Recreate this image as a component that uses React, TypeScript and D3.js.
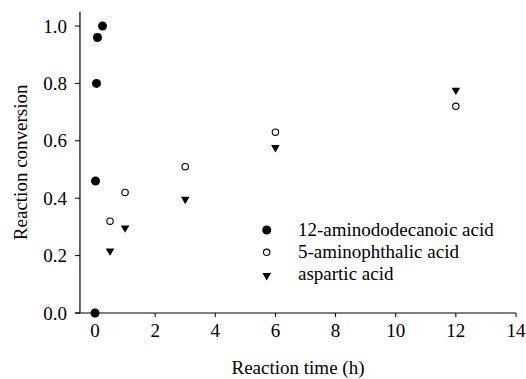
import React from "react";
import * as d3 from "d3";

const seriesNames = ["12-aminododecanoic acid", "5-aminophthalic acid", "aspartic acid"];
const aminoDodecTime = [0, 0.017, 0.05, 0.083, 0.25];
const aminoDodecConv = [0.0, 0.46, 0.8, 0.96, 1.0];
const aminoPhthTime = [0.5, 1, 3, 6, 12];
const aminoPhthConv = [0.32, 0.42, 0.51, 0.63, 0.72];
const asparticTime = [0.5, 1, 3, 6, 12];
const asparticConv = [0.22, 0.3, 0.4, 0.58, 0.78];
const xTicks = [0, 2, 4, 6, 8, 10, 12, 14];
const yTicks = [0.0, 0.2, 0.4, 0.6, 0.8, 1.0];

const W = 526;
const H = 379;
const FAM = "Liberation Serif";

export default function App() {
  const x = d3.scaleLinear().domain([0, 14]).range([95, 516]);
  const y = d3.scaleLinear().domain([0, 1]).range([313, 26]);
  const x0 = x(-0.5);
  const yTop = y(1.05);
  const tri = d3.symbol().type(d3.symbolTriangle).size(32)();

  const T = (props: any) => (
    <text fill="#000" {...props} style={{ fontFamily: `"${FAM}", serif`, fontSize: "19px" }} />
  );

  const filled = (t: number, v: number, i: number) => (
    <circle key={"f" + i} cx={x(t)} cy={y(v)} r={4.5} fill="#000" />
  );
  const open = (cx: number, cy: number, k: string) => (
    <circle key={k} cx={cx} cy={cy} r={3.2} fill="#fff" stroke="#000" strokeWidth={1.1} />
  );
  const triangle = (cx: number, cy: number, k: string) => (
    <path key={k} d={tri} transform={`translate(${cx},${cy}) rotate(180)`} fill="#000" />
  );

  const legendX = 266.7;
  const legendTextX = 298;
  const legendY = [230, 252.3, 274.5];

  return (
    <svg width={W} height={H} style={{ position: "absolute", left: 0, top: 0 }}>
      <rect x={0} y={0} width={W} height={H} fill="#fff" />
      <line x1={x0} x2={x0} y1={yTop} y2={y(0)} stroke="#000" strokeWidth={1.2} />
      <line x1={x0 - 5} x2={x(14)} y1={y(0)} y2={y(0)} stroke="#000" strokeWidth={1.2} />
      {yTicks.map((t) => (
        <g key={"yt" + t}>
          <line x1={x0 - 5} x2={x0} y1={y(t)} y2={y(t)} stroke="#000" strokeWidth={1} />
          <T x={67} y={y(t) + 6.5} textAnchor="end">
            {t.toFixed(1)}
          </T>
        </g>
      ))}
      {xTicks.map((t) => (
        <g key={"xt" + t}>
          <line x1={x(t)} x2={x(t)} y1={y(0)} y2={y(0) + 4} stroke="#000" strokeWidth={1} />
          <T x={x(t)} y={337} textAnchor="middle">
            {t}
          </T>
        </g>
      ))}
      <T x={298} y={374} textAnchor="middle">
        Reaction time (h)
      </T>
      <T transform={`translate(27,${(yTop + y(0)) / 2}) rotate(-90)`} textAnchor="middle">
        Reaction conversion
      </T>
      {aminoDodecTime.map((t, i) => filled(t, aminoDodecConv[i], i))}
      {aminoPhthTime.map((t, i) => open(x(t), y(aminoPhthConv[i]), "o" + i))}
      {asparticTime.map((t, i) => triangle(x(t), y(asparticConv[i]) + 1, "t" + i))}
      <circle cx={legendX} cy={legendY[0]} r={4.5} fill="#000" />
      {open(legendX, legendY[1], "lo")}
      {triangle(legendX, legendY[2] + 1, "lt")}
      {seriesNames.map((n, i) => (
        <T key={n} x={legendTextX} y={legendY[i] + 5.5}>
          {n}
        </T>
      ))}
    </svg>
  );
}
